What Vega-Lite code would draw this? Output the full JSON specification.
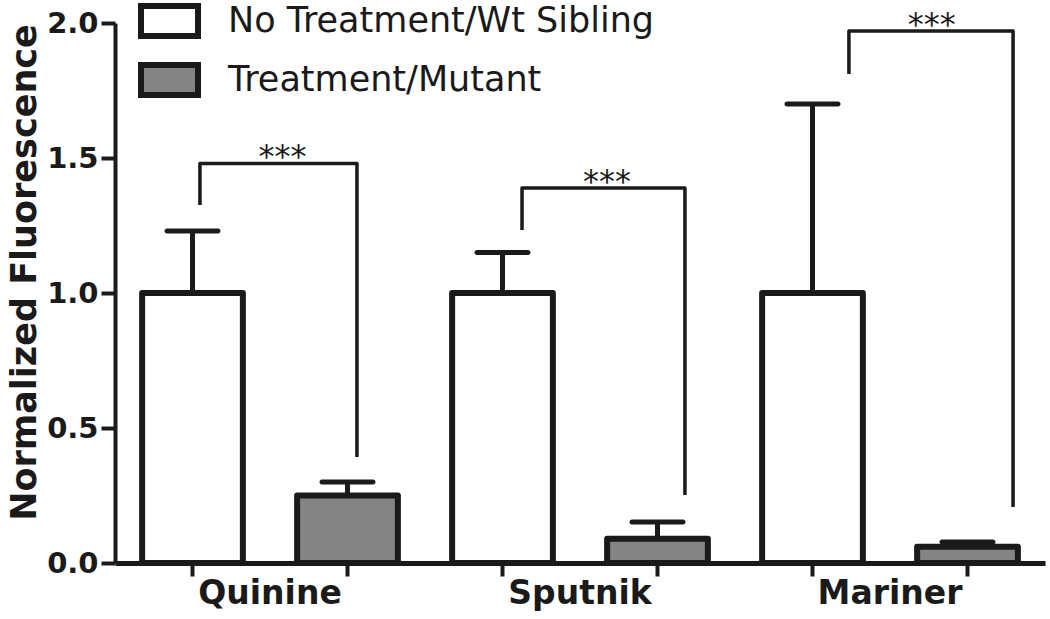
{
  "$schema": "https://vega.github.io/schema/vega-lite/v6.json",
  "width": 930,
  "height": 540,
  "autosize": {"type": "none"},
  "padding": {"left": 115, "top": 23, "right": 5, "bottom": 56},
  "background": "#ffffff",
  "config": {
    "view": {"stroke": null},
    "font": "DejaVu Sans",
    "axisY": {
      "domainWidth": 4, "domainColor": "#1a1a1a", "tickColor": "#1a1a1a", "tickWidth": 4, "tickSize": 14,
      "labelFont": "DejaVu Sans", "labelFontWeight": "bold", "labelFontSize": 29, "labelColor": "#1a1a1a", "labelPadding": 3,
      "titleFont": "DejaVu Sans", "titleFontWeight": "bold", "titleFontSize": 35, "titleColor": "#1a1a1a", "titlePadding": 4,
      "titleY": 249,
      "grid": false
    },
    "axisX": {
      "domainWidth": 5, "domainColor": "#1a1a1a", "tickColor": "#1a1a1a", "tickWidth": 4, "tickSize": 13,
      "labelFont": "DejaVu Sans", "labelFontWeight": "bold", "labelFontSize": 33, "labelColor": "#1a1a1a", "labelPadding": 1,
      "grid": false
    }
  },
  "datasets": {
    "bars": [
      {"group": "Quinine", "cond": "No Treatment/Wt Sibling", "slot": "Quinine: No Treatment/Wt Sibling", "value": 1.0, "upper": 1.23},
      {"group": "Quinine", "cond": "Treatment/Mutant", "slot": "Quinine: Treatment/Mutant", "value": 0.25, "upper": 0.30},
      {"group": "Sputnik", "cond": "No Treatment/Wt Sibling", "slot": "Sputnik: No Treatment/Wt Sibling", "value": 1.0, "upper": 1.15},
      {"group": "Sputnik", "cond": "Treatment/Mutant", "slot": "Sputnik: Treatment/Mutant", "value": 0.09, "upper": 0.152},
      {"group": "Mariner", "cond": "No Treatment/Wt Sibling", "slot": "Mariner: No Treatment/Wt Sibling", "value": 1.0, "upper": 1.70},
      {"group": "Mariner", "cond": "Treatment/Mutant", "slot": "Mariner: Treatment/Mutant", "value": 0.06, "upper": 0.078}
    ],
    "brackets": [
      {"test": "Quinine", "k": 1, "bx": 0.548, "by": 1.326},
      {"test": "Quinine", "k": 2, "bx": 0.548, "by": 1.48},
      {"test": "Quinine", "k": 3, "bx": 1.561, "by": 1.48},
      {"test": "Quinine", "k": 4, "bx": 1.561, "by": 0.393},
      {"test": "Sputnik", "k": 1, "bx": 2.626, "by": 1.233},
      {"test": "Sputnik", "k": 2, "bx": 2.626, "by": 1.389},
      {"test": "Sputnik", "k": 3, "bx": 3.677, "by": 1.389},
      {"test": "Sputnik", "k": 4, "bx": 3.677, "by": 0.252},
      {"test": "Mariner", "k": 1, "bx": 4.735, "by": 1.811},
      {"test": "Mariner", "k": 2, "bx": 4.735, "by": 1.97},
      {"test": "Mariner", "k": 3, "bx": 5.794, "by": 1.97},
      {"test": "Mariner", "k": 4, "bx": 5.794, "by": 0.207}
    ],
    "stars": [
      {"test": "Quinine", "sx": 1.08, "sy": 1.48, "label": "***"},
      {"test": "Sputnik", "sx": 3.174, "sy": 1.389, "label": "***"},
      {"test": "Mariner", "sx": 5.27, "sy": 1.97, "label": "***"}
    ]
  },
  "layer": [
    {
      "data": {"name": "bars"},
      "encoding": {
        "x": {
          "field": "slot", "type": "nominal", "sort": null, "title": null,
          "scale": {"type": "band", "paddingInner": 0.35, "paddingOuter": 0.175},
          "axis": {
            "labelAngle": 0,
            "labelOffset": 77.5,
            "labelOverlap": false,
            "labelBound": false,
            "labelExpr": "datum.value == 'Quinine: No Treatment/Wt Sibling' ? 'Quinine' : datum.value == 'Sputnik: No Treatment/Wt Sibling' ? 'Sputnik' : datum.value == 'Mariner: No Treatment/Wt Sibling' ? 'Mariner' : ''"
          }
        }
      },
      "layer": [
        {
          "mark": {"type": "rule", "stroke": "#1a1a1a", "strokeWidth": 5},
          "encoding": {
            "y": {"field": "value", "type": "quantitative", "title": "Normalized Fluorescence",
                  "scale": {"domain": [0, 2]}, "axis": {"values": [0, 0.5, 1, 1.5, 2], "format": ".1f"}},
            "y2": {"field": "upper"}
          }
        },
        {
          "mark": {"type": "tick", "orient": "horizontal", "color": "#1a1a1a", "size": 56, "thickness": 5, "opacity": 1, "cornerRadius": 2.5},
          "encoding": {
            "y": {"field": "upper", "type": "quantitative", "title": "Normalized Fluorescence", "scale": {"domain": [0, 2]}}
          }
        },
        {
          "mark": {"type": "bar", "stroke": "#1a1a1a", "strokeWidth": 6, "strokeJoin": "round"},
          "encoding": {
            "y": {"field": "value", "type": "quantitative", "title": "Normalized Fluorescence", "scale": {"domain": [0, 2]}},
            "fill": {
              "field": "cond", "type": "nominal",
              "scale": {"domain": ["No Treatment/Wt Sibling", "Treatment/Mutant"], "range": ["#ffffff", "#848484"]},
              "legend": {
                "title": null, "orient": "none", "legendX": 23, "legendY": -33.5,
                "symbolType": "M-1,-0.526H1V0.526H-1Z", "symbolSize": 3249,
                "symbolStrokeColor": "#1a1a1a", "symbolStrokeWidth": 6, "symbolOpacity": 1,
                "labelFont": "DejaVu Sans", "labelFontSize": 35, "labelColor": "#1a1a1a",
                "labelOffset": 27, "rowPadding": -12.5, "labelLimit": 700
              }
            }
          }
        }
      ]
    },
    {
      "data": {"name": "brackets"},
      "mark": {"type": "line", "stroke": "#1a1a1a", "strokeWidth": 3.5, "strokeJoin": "round"},
      "encoding": {
        "x": {"field": "bx", "type": "quantitative", "scale": {"domain": [0, 6], "nice": false, "zero": false}, "axis": null},
        "y": {"field": "by", "type": "quantitative", "title": "Normalized Fluorescence", "scale": {"domain": [0, 2]}},
        "detail": {"field": "test"},
        "order": {"field": "k", "type": "quantitative"}
      }
    },
    {
      "data": {"name": "stars"},
      "mark": {"type": "text", "font": "DejaVu Sans", "fontSize": 32, "color": "#1a1a1a", "baseline": "alphabetic", "align": "center", "dy": 4},
      "encoding": {
        "x": {"field": "sx", "type": "quantitative", "scale": {"domain": [0, 6], "nice": false, "zero": false}, "axis": null},
        "y": {"field": "sy", "type": "quantitative", "title": "Normalized Fluorescence", "scale": {"domain": [0, 2]}},
        "text": {"field": "label"}
      }
    }
  ],
  "resolve": {"scale": {"x": "independent"}}
}
